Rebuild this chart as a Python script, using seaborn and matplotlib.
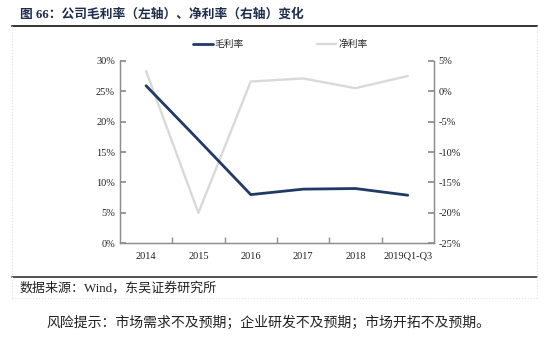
import numpy as np
import pandas as pd
import seaborn as sns
import matplotlib.pyplot as plt
from matplotlib.lines import Line2D
from matplotlib.ticker import FixedLocator, PercentFormatter

years = ["2014", "2015", "2016", "2017", "2018", "2019Q1-Q3"]
gross_margin = [25.9, 17.0, 8.0, 8.9, 9.0, 7.9]
net_margin = [3.3, -20.0, 1.6, 2.1, 0.5, 2.5]

sns.set_theme(style="white")
plt.rcParams["font.family"] = ["Liberation Serif", "Noto Sans CJK SC"]
plt.rcParams["axes.unicode_minus"] = False

df = pd.DataFrame({"year": years, "gross": gross_margin, "net": net_margin})

navy = "#1f3a64"
light = "#d9d9d9"
axis_col = "#8c8c8c"

fig = plt.figure(figsize=(5.5, 3.62), dpi=100)
ax = fig.add_axes([0.218, 0.328, 0.571, 0.504])
ax2 = ax.twinx()

sns.lineplot(data=df, x="year", y="gross", ax=ax, color=navy, lw=2.0, sort=False, zorder=3)
sns.lineplot(data=df, x="year", y="net", ax=ax2, color=light, lw=1.7, sort=False, zorder=2)
ax.set_zorder(ax2.get_zorder() + 1)
ax.patch.set_visible(False)

ax.set_xlim(-0.5, len(years) - 0.5)
ax.set_ylim(0, 30)
ax2.set_ylim(-25, 5)
ax.set_yticks(np.arange(0, 31, 5))
ax2.set_yticks(np.arange(-25, 6, 5))
ax.yaxis.set_major_formatter(PercentFormatter(decimals=0))
ax2.yaxis.set_major_formatter(PercentFormatter(decimals=0))
ax.set_xlabel("")
ax.set_ylabel("")
ax2.set_ylabel("")

ax.xaxis.set_minor_locator(FixedLocator(np.arange(0.5, len(years) - 1, 1)))
ax.tick_params(axis="x", which="major", length=0, labelsize=7.5, pad=6, colors="#222222")
ax.tick_params(axis="x", which="minor", length=4, direction="in", color=axis_col, bottom=True)
ax.tick_params(axis="y", length=4, direction="in", color=axis_col, labelsize=7.5, colors="#222222", left=True)
ax2.tick_params(axis="y", length=4, direction="in", color=axis_col, labelsize=7.5, colors="#222222", right=True)

for a in (ax, ax2):
    for side, sp in a.spines.items():
        sp.set_color(axis_col)
        sp.set_linewidth(0.9)
    a.spines["top"].set_visible(False)
    a.grid(False)

handles = [Line2D([0], [0], color=navy, lw=2.0), Line2D([0], [0], color=light, lw=1.7)]
fig.legend(handles, ["毛利率", "净利率"], loc="center", bbox_to_anchor=(0.51, 0.878), ncol=2,
           frameon=False, fontsize=7, handlelength=2.0, handletextpad=0.2, columnspacing=7.5)

# page frame
fig.add_artist(Line2D([0.022, 0.976], [0.928, 0.928], color="#333333", lw=1.4))
fig.add_artist(Line2D([0.022, 0.976], [0.235, 0.235], color="#333333", lw=1.2))
fig.add_artist(Line2D([0.022, 0.022], [0.928, 0.177], color="#e0e0e0", lw=0.8, ls=":"))
fig.add_artist(Line2D([0.976, 0.976], [0.928, 0.177], color="#e0e0e0", lw=0.8, ls=":"))
fig.add_artist(Line2D([0.022, 0.976], [0.177, 0.177], color="#e0e0e0", lw=0.8, ls=":"))

fig.text(0.036, 0.96, "图 66：公司毛利率（左轴）、净利率（右轴）变化", fontsize=9.2,
         fontweight="bold", color="#1f2d4d", va="center", ha="left")
fig.text(0.036, 0.205, "数据来源：Wind，东吴证券研究所", fontsize=9.4, color="#222222",
         va="center", ha="left")
fig.text(0.085, 0.108, "风险提示：市场需求不及预期；企业研发不及预期；市场开拓不及预期。",
         fontsize=10, color="#222222", va="center", ha="left")

fig.savefig("out.png", dpi=100)
